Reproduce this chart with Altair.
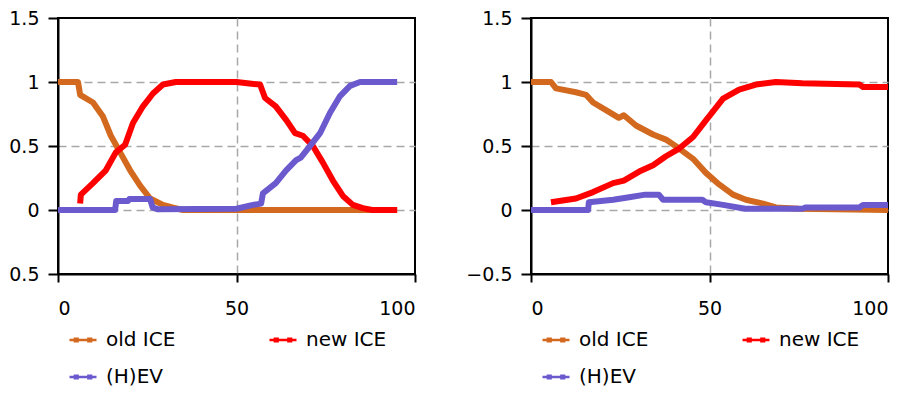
import altair as alt
import pandas as pd

series_names = ["old ICE", "new ICE", "(H)EV"]
series_colors = ["#D2691E", "#FF0000", "#6A5ACD"]

# ---- left panel ----
l_old_x = [0, 5.6, 6.2, 9.8, 12.6, 14.8, 17.4, 20.2, 23, 25.8, 29.4, 32, 35, 95]
l_old_y = [1.0, 1.0, 0.90, 0.84, 0.73, 0.58, 0.45, 0.31, 0.19, 0.09, 0.04, 0.02, 0.0, 0.0]
l_new_x = [6.2, 6.4, 9.8, 13.4, 16.2, 18.8, 21, 23.8, 26.6, 29.4, 33, 50, 53, 56.6, 58, 61, 64,
           66.4, 68.6, 71.4, 74.2, 77, 79.8, 82.6, 85.4, 88, 95]
l_new_y = [0.05, 0.12, 0.21, 0.31, 0.45, 0.51, 0.68, 0.81, 0.91, 0.98, 1.0, 1.0, 0.99, 0.98, 0.875,
           0.81, 0.70, 0.60, 0.58, 0.50, 0.37, 0.23, 0.11, 0.04, 0.015, 0.0, 0.0]
l_hev_x = [0, 16, 16.3, 19.6, 20, 25.8, 26.5, 28, 50, 54.6, 56.9, 57.4, 61, 63.9, 66.7, 68, 70.6,
           73.4, 76.2, 79, 81.8, 84.6, 95]
l_hev_y = [0, 0, 0.07, 0.07, 0.085, 0.085, 0.02, 0.005, 0.01, 0.04, 0.05, 0.13, 0.21, 0.31, 0.39,
           0.41, 0.50, 0.60, 0.76, 0.89, 0.97, 1.0, 1.0]

# ---- right panel ----
r_old_x = [0, 5.6, 7, 12.6, 15.4, 17.4, 21, 24.6, 26, 29.4, 34.2, 37.8, 41.5, 45.4, 49, 52.7, 56.6,
           60.2, 65, 68.6, 75, 100]
r_old_y = [1.0, 1.0, 0.95, 0.92, 0.90, 0.84, 0.78, 0.72, 0.74, 0.66, 0.59, 0.55, 0.48, 0.40, 0.29,
           0.2, 0.12, 0.08, 0.05, 0.02, 0.01, 0.0]
r_new_x = [5.6, 12.6, 17.4, 23, 26, 30.3, 34.2, 37.8, 41.5, 45.4, 49, 51, 53.8, 58.3, 63, 68.6, 76,
           92, 93, 100]
r_new_y = [0.06, 0.09, 0.14, 0.21, 0.23, 0.30, 0.35, 0.42, 0.48, 0.57, 0.70, 0.77, 0.87, 0.94, 0.98,
           1.0, 0.99, 0.98, 0.96, 0.96]
r_hev_x = [0, 16, 16.2, 23, 27.5, 32, 35.8, 37, 48, 49, 53.8, 60, 76, 77, 92, 93, 100]
r_hev_y = [0.0, 0.0, 0.06, 0.08, 0.10, 0.12, 0.12, 0.08, 0.08, 0.06, 0.04, 0.01, 0.01, 0.02, 0.02,
           0.04, 0.04]

y_ticks = [-0.5, 0, 0.5, 1, 1.5]
x_ticks = [0, 50, 100]


def frame(xs_list, ys_list):
    rows = []
    order = 0
    for name, xs, ys in zip(series_names, xs_list, ys_list):
        for i, (x, y) in enumerate(zip(xs, ys)):
            rows.append({"series": name, "t": x, "v": y, "ord": order * 1000 + i})
        order += 1
    return pd.DataFrame(rows)


left_df = frame([l_old_x, l_new_x, l_hev_x], [l_old_y, l_new_y, l_hev_y])
right_df = frame([r_old_x, r_new_x, r_hev_x], [r_old_y, r_new_y, r_hev_y])

legend_symbol = ("M-1,0H1"
                 "M-0.6,-0.1H-0.4V0.1H-0.6Z"
                 "M0.4,-0.1H0.6V0.1H0.4Z")

x_grid_op = {"condition": {"test": "datum.value == 50", "value": 1}, "value": 0}
y_grid_op = {"condition": {"test": "datum.value > -0.5 && datum.value < 1.5", "value": 1}, "value": 0}


def panel(df):
    return alt.Chart(df).mark_line(strokeWidth=6, strokeJoin="round", strokeCap="butt").encode(
        x=alt.X("t:Q", scale=alt.Scale(domain=[0, 100], nice=False, zero=False),
                axis=alt.Axis(values=x_ticks, title=None, gridDash=[8, 5], labelPadding=17,
                              tickSize=8, gridOpacity=x_grid_op)),
        y=alt.Y("v:Q", scale=alt.Scale(domain=[-0.5, 1.5], nice=False, zero=False),
                axis=alt.Axis(values=y_ticks, title=None, format="~g", gridDash=[8, 5],
                              labelPadding=9, tickSize=10, gridOpacity=y_grid_op)),
        color=alt.Color("series:N",
                        scale=alt.Scale(domain=series_names, range=series_colors),
                        legend=alt.Legend(title=None, orient="none", legendX=10, legendY=307,
                                          columns=2, direction="horizontal",
                                          symbolType=legend_symbol, symbolSize=729,
                                          symbolStrokeWidth=2.5, columnPadding=88,
                                          rowPadding=12, labelFontSize=20, labelOffset=8,
                                          labelFont="DejaVu Sans", labelColor="#000000")),
        detail="series:N",
        order="ord:Q",
    ).properties(width=357, height=256)


chart = alt.hconcat(panel(left_df), panel(right_df), spacing=47).resolve_scale(
    color="independent"
).resolve_legend(color="independent").configure(
    padding={"left": -17, "top": 0, "right": 0, "bottom": 0},
    background="#FFFFFF",
).configure_view(
    stroke="#000000", strokeWidth=2
).configure_axis(
    domainColor="#000000", domainWidth=2, tickColor="#000000", tickWidth=2,
    gridColor="#A8A8A8", gridWidth=1.5, labelFont="DejaVu Sans", labelFontSize=19,
    labelColor="#000000",
)

chart.save("out.html", embed_options={"renderer": "svg", "actions": False})
